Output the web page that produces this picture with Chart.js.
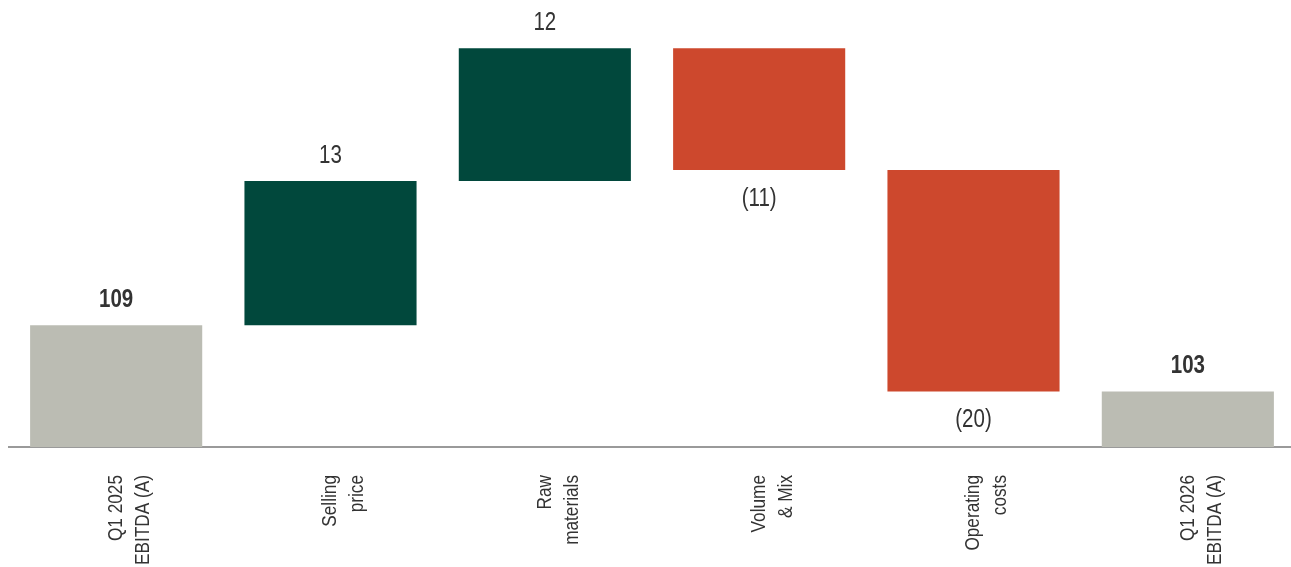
<!DOCTYPE html>
<html>
<head>
<meta charset="utf-8">
<style>
  html, body { margin: 0; padding: 0; background: #fff; overflow: hidden; }
  #wf { display: block; }
</style>
<script src="https://cdn.jsdelivr.net/npm/chart.js@4.4.1/dist/chart.umd.min.js"></script>
</head>
<body>
<canvas id="wf" width="1300" height="567"></canvas>
<script>
const categories = [
    ['Q1 2025', 'EBITDA (A)'],
    ['Selling', 'price'],
    ['Raw', 'materials'],
    ['Volume', '& Mix'],
    ['Operating', 'costs'],
    ['Q1 2026', 'EBITDA (A)'],
];
const values = [109, 13, 12, -11, -20, 103];
const isTotal = [true, false, false, false, false, true];

const FONT = '"Liberation Sans", Arial, sans-serif';
const NARROW = 0.82; // squeeze Liberation Sans to look like Arial Narrow
const GREY = '#bbbcb3';
const GREEN = '#01483c';
const RED = '#cd482d';
const TEXT = '#333333';

let running = 0;
const ranges = values.map((v, i) => {
    if (isTotal[i]) {
        running = v;
        return [0, v];
    }
    const start = running;
    running += v;
    return [start, running];
});
const colors = values.map((v, i) => (isTotal[i] ? GREY : v >= 0 ? GREEN : RED));
const valueText = values.map((v) => (v < 0 ? `(${Math.abs(v)})` : `${v}`));

const narrowText = (ctx, text, x, y, angle) => {
    ctx.save();
    ctx.translate(x, y);
    if (angle) ctx.rotate(angle);
    ctx.scale(NARROW, 1);
    ctx.fillText(text, 0, 0);
    ctx.restore();
};

const labelsPlugin = {
    id: 'wfLabels',
    afterDraw(chart) {
        const { ctx } = chart;
        const x = chart.scales.x;
        const y = chart.scales.y;
        const meta = chart.getDatasetMeta(0);
        ctx.save();
        ctx.fillStyle = TEXT;
        ctx.textAlign = 'center';
        ctx.textBaseline = 'middle';
        meta.data.forEach((bar, i) => {
            const [a, b] = ranges[i];
            ctx.font = `${isTotal[i] ? 'bold ' : ''}25px ${FONT}`;
            if (values[i] >= 0) {
                narrowText(ctx, valueText[i], bar.x, y.getPixelForValue(Math.max(a, b)) - 25);
            } else {
                narrowText(ctx, valueText[i], bar.x, y.getPixelForValue(Math.min(a, b)) + 29);
            }
        });
        // rotated category labels
        ctx.font = `21px ${FONT}`;
        ctx.textAlign = 'right';
        categories.forEach((lines, i) => {
            const cx = x.getPixelForValue(i);
            lines.forEach((line, j) => {
                narrowText(ctx, line, cx + j * 27, x.top + 28, -Math.PI / 2);
            });
        });
        ctx.restore();
    },
};

new Chart(document.getElementById('wf').getContext('2d'), {
    type: 'bar',
    data: {
        labels: categories.map((c) => c.join(' ')),
        datasets: [{
            data: ranges,
            backgroundColor: colors,
            borderWidth: 0,
            barPercentage: 0.803,
            categoryPercentage: 1,
        }],
    },
    options: {
        responsive: false,
        animation: false,
        layout: { padding: { top: 26, left: 9, right: 5, bottom: 0 } },
        plugins: { legend: { display: false }, tooltip: { enabled: false } },
        scales: {
            x: {
                grid: { display: false },
                border: { display: true, color: '#9a9a9a', width: 2 },
                ticks: { display: false },
                afterFit: (axis) => { axis.height = 120; },
            },
            y: {
                display: false,
                min: 98,
                max: 136,
            },
        },
    },
    plugins: [labelsPlugin],
});
</script>
</body>
</html>
